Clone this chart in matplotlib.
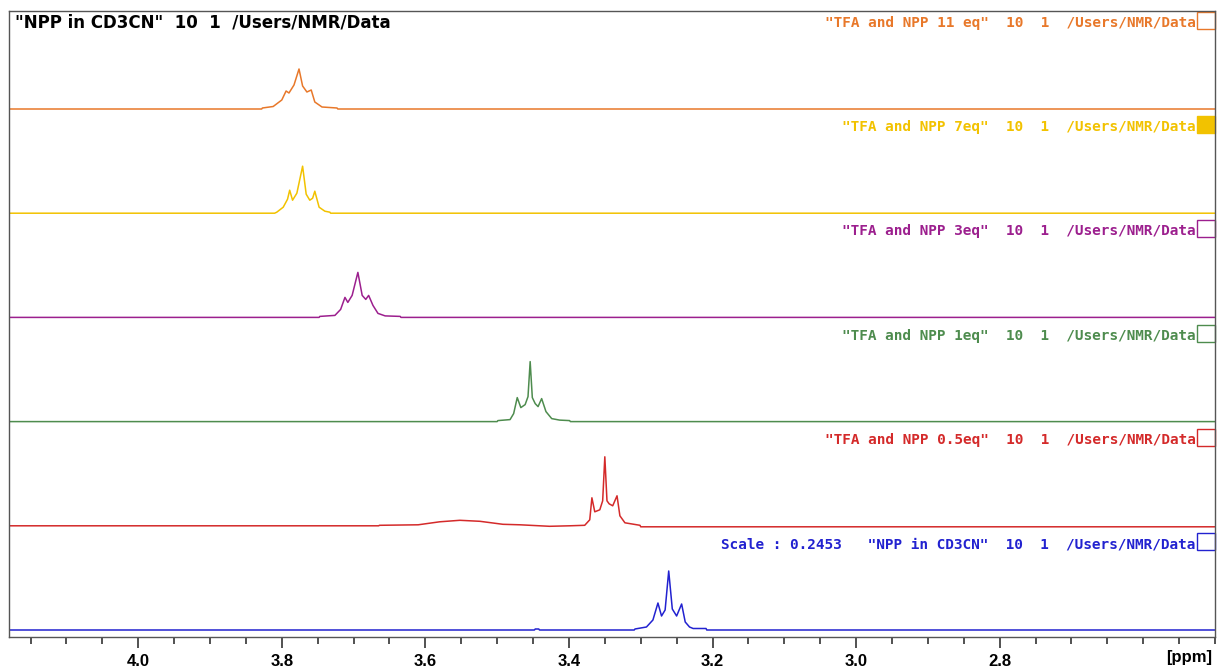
import matplotlib
matplotlib.use("Agg")
import matplotlib.pyplot as plt
from matplotlib.patches import Rectangle
from matplotlib.ticker import MultipleLocator
import numpy as np

# spectra: chemical shift (ppm) and intensity (a.u.)
blue_ppm = [4.18, 3.448, 3.447, 3.442, 3.441, 3.309, 3.308, 3.292, 3.283, 3.276, 3.271,
            3.266, 3.261, 3.256, 3.250, 3.243, 3.238, 3.232, 3.227, 3.209, 3.208, 2.50]
blue_int = [0, 0, 1, 1, 0, 0, 1, 3, 10, 27, 14, 20, 59, 21, 14, 26, 8, 3, 1.5, 1.5, 0, 0]

red_ppm = [4.18, 3.665, 3.664, 3.610, 3.580, 3.552, 3.524, 3.492, 3.468, 3.427, 3.399,
           3.378, 3.371, 3.368, 3.364, 3.357, 3.353, 3.350, 3.347, 3.344, 3.339, 3.333,
           3.329, 3.322, 3.301, 3.300, 2.50]
red_int = [0, 0, 0.5, 1, 4, 5.5, 4.5, 1.5, 1, -0.5, 0, 0.5, 6, 28, 14, 16, 25, 69, 25,
           22, 20, 30, 10, 3, 0.5, -1, -1]

green_ppm = [4.18, 3.500, 3.499, 3.482, 3.477, 3.472, 3.467, 3.461, 3.457, 3.454, 3.451,
             3.447, 3.443, 3.438, 3.432, 3.424, 3.413, 3.399, 3.398, 2.50]
green_int = [0, 0, 1, 2, 8, 24, 14, 17, 25, 60, 24, 18, 15, 23, 10, 3, 1.5, 1, 0, 0]

purple_ppm = [4.18, 3.748, 3.747, 3.726, 3.718, 3.712, 3.708, 3.702, 3.694, 3.688, 3.683,
              3.679, 3.673, 3.666, 3.656, 3.635, 3.634, 2.50]
purple_int = [0, 0, 1, 2, 8, 20, 15, 22, 45, 22, 18, 22, 12, 4, 1.5, 1, 0, 0]

yellow_ppm = [4.18, 3.810, 3.807, 3.798, 3.792, 3.789, 3.785, 3.779, 3.771, 3.766, 3.761,
              3.757, 3.754, 3.748, 3.740, 3.733, 3.732, 2.50]
yellow_int = [0, 0, 1, 6, 14, 23, 13, 20, 47, 19, 13, 15, 22, 6, 2, 1, 0, 0]

orange_ppm = [4.18, 3.828, 3.827, 3.812, 3.800, 3.794, 3.790, 3.783, 3.776, 3.771, 3.765,
              3.759, 3.754, 3.744, 3.723, 3.722, 2.50]
orange_int = [0, 0, 1, 2.5, 9, 18, 16, 24, 40, 23, 17, 19, 7, 2, 1, 0, 0]

spectra = [(blue_ppm, blue_int), (red_ppm, red_int), (green_ppm, green_int),
           (purple_ppm, purple_int), (yellow_ppm, yellow_int), (orange_ppm, orange_int)]

labels = [
    'Scale : 0.2453   "NPP in CD3CN"  10  1  /Users/NMR/Data',
    '"TFA and NPP 0.5eq"  10  1  /Users/NMR/Data',
    '"TFA and NPP 1eq"  10  1  /Users/NMR/Data',
    '"TFA and NPP 3eq"  10  1  /Users/NMR/Data',
    '"TFA and NPP 7eq"  10  1  /Users/NMR/Data',
    '"TFA and NPP 11 eq"  10  1  /Users/NMR/Data',
]
colors = ['#2222D0', '#D42A2A', '#4E8C4E', '#9C1F8E', '#F2C200', '#E8782A']
filled = [False, False, False, False, True, False]
major_ticks = [4.0, 3.8, 3.6, 3.4, 3.2, 3.0, 2.8]

fig = plt.figure(figsize=(12.17, 6.70), dpi=100)
ax = fig.add_axes([9 / 1217, 33 / 670, 1206 / 1217, 626 / 670])

step = 104.2
for i, (x, y) in enumerate(spectra):
    off = i * step
    ax.plot(x, np.array(y) + off, color=colors[i], lw=1.1)
    ax.text(2.527, off + 86, labels[i], color=colors[i], ha='right', va='center',
            fontsize=10.4, family='DejaVu Sans Mono', fontweight='bold')
    ax.add_patch(Rectangle((2.50, off + 80), 0.025, 17, clip_on=False, lw=1.0,
                           edgecolor=colors[i],
                           facecolor=colors[i] if filled[i] else 'none'))

ax.text(0.005, 0.982, '"NPP in CD3CN"  10  1  /Users/NMR/Data', transform=ax.transAxes,
        ha='left', va='center', fontsize=12, fontweight='bold', color='black')

ax.set_xlim(4.18, 2.50)
ax.set_ylim(-7, 619)
ax.set_yticks([])
ax.set_xticks(major_ticks)
ax.set_xticklabels([f'{t:.1f}' for t in major_ticks], fontweight='bold', fontsize=12,
                   family='Liberation Sans')
ax.xaxis.set_minor_locator(MultipleLocator(0.05))
ax.tick_params(axis='x', which='major', length=8, width=1.2, color='#333333', pad=4)
ax.tick_params(axis='x', which='minor', length=5, width=1.2, color='#333333')
for s in ax.spines.values():
    s.set_color('#555555')
    s.set_linewidth(1.0)

ax.text(0.998, -0.032, '[ppm]', transform=ax.transAxes, ha='right', va='center',
        fontsize=12, fontweight='bold', family='Liberation Sans')

fig.savefig('out.png', dpi=100)
